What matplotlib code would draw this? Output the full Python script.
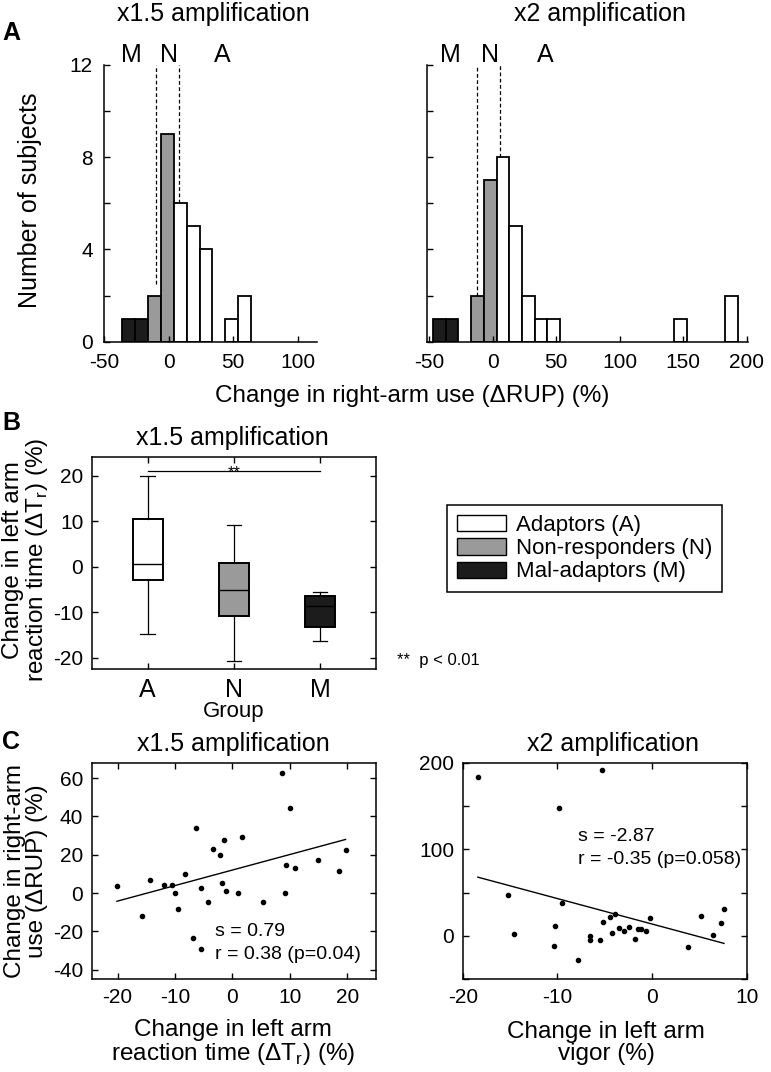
import numpy as np
import matplotlib
matplotlib.use("Agg")
import matplotlib.pyplot as plt
from matplotlib.patches import Patch

plt.rcParams['font.family'] = ['Liberation Sans', 'DejaVu Sans']
plt.rcParams['mathtext.fontset'] = 'custom'
plt.rcParams['mathtext.rm'] = 'Liberation Sans'
plt.rcParams['axes.unicode_minus'] = False
plt.rcParams['xtick.direction'] = 'in'
plt.rcParams['ytick.direction'] = 'in'
plt.rcParams['axes.linewidth'] = 1.1

# --- Panel A: histograms of change in right-arm use ---
bin_width = 10
x15_bin_left = [-36, -26, -16, -6, 4, 14, 24, 44, 54]
x15_counts = [1, 1, 2, 9, 6, 5, 4, 1, 2]
x15_group = ['M', 'M', 'N', 'N', 'A', 'A', 'A', 'A', 'A']
x15_thresholds = [-10, 8]
x15_thresh_bottom = [2.5, 6]
x15_label_x = [-29, 0, 42]

x2_bin_left = [-47, -37, -17, -7, 3, 13, 23, 33, 43, 143, 183]
x2_counts = [1, 1, 2, 7, 8, 5, 2, 1, 1, 1, 2]
x2_group = ['M', 'M', 'N', 'N', 'A', 'A', 'A', 'A', 'A', 'A', 'A']
x2_thresholds = [-12, 6]
x2_thresh_bottom = [2, 8]
x2_label_x = [-33, -2, 41]

group_names = ['M', 'N', 'A']
group_colors = {'A': 'white', 'N': '#9a9a9a', 'M': '#1c1c1c'}

# --- Panel B: boxplot stats of reaction time change ---
box_groups = ['A', 'N', 'M']
box_med = [0.7, -5.0, -8.5]
box_q1 = [-2.9, -10.9, -13.1]
box_q3 = [10.5, 0.9, -6.3]
box_lo = [-14.7, -20.6, -16.2]
box_hi = [20.0, 9.2, -5.6]

# --- Panel C: scatter data ---
rt_x15 = [-20.1, -15.7, -14.3, -11.9, -10.6, -10.0, -9.5, -8.2, -6.9, -6.4,
          -5.4, -5.4, -4.2, -3.3, -2.1, -1.8, -1.4, -1.1, 0.9, 1.7,
          5.3, 8.6, 9.1, 9.3, 10.0, 10.9, 14.9, 18.5, 19.7]
rup_x15 = [3.5, -11.8, 6.6, 4.2, 4.0, 0.0, -8.2, 10.1, -23.5, 33.7,
           -29.4, 2.6, -4.7, 23.0, 19.8, 5.4, 27.5, 0.9, 0.0, 29.0,
           -4.7, 62.8, 0.0, 14.4, 44.2, 13.0, 17.0, 11.7, 22.6]
fit_x15 = (0.81, 12.0)   # slope, intercept of regression line

vig_x2 = [-18.4, -5.3, -9.8, -15.2, -14.6, -9.5, -10.3, -10.4, -7.8, -6.6,
          -6.6, -5.5, -5.2, -4.4, -4.2, -3.9, -3.5, -3.0, -2.4, -1.8,
          -1.5, -1.2, -0.6, -0.2, 3.8, 5.2, 6.4, 7.3, 7.6]
rup_x2 = [183.6, 191.7, 147.8, 47.1, 2.7, 38.6, 12.0, -12.0, -27.4, 0.0,
          -5.0, -4.2, 15.8, 21.6, 3.1, 25.5, 9.3, 6.2, 10.4, -3.1,
          8.1, 8.1, 5.8, 21.2, -12.3, 22.8, 1.5, 15.4, 31.6]
fit_x2 = (-2.94, 13.8)

W, H = 771, 1072
fig = plt.figure(figsize=(W / 100, H / 100), dpi=100)


def fx(px):
    return px / W


def fy(py):
    return 1 - py / H


def hist_panel(ax, lefts, counts, groups, thr, thr_bottom, lab_x, xlim, xticks, show_ylab):
    cols = [group_colors[g] for g in groups]
    ax.bar(lefts, counts, width=bin_width, align='edge', color=cols,
           edgecolor='black', linewidth=1.3)
    for t, b in zip(thr, thr_bottom):
        ax.plot([t, t], [b, 12], ls='--', color='black', lw=0.9, dashes=(3, 2))
    for x, name in zip(lab_x, group_names):
        ax.text(x, 12.15, name, ha='center', va='baseline', fontsize=18, clip_on=False)
    ax.set_xlim(*xlim)
    ax.set_ylim(0, 12)
    ax.set_xticks(xticks)
    ax.set_yticks(range(0, 13, 2))
    if show_ylab:
        ax.set_yticklabels([str(v) if v % 4 == 0 else '' for v in range(0, 13, 2)])
    else:
        ax.set_yticklabels([])
    ax.spines['top'].set_visible(False)
    ax.spines['right'].set_visible(False)
    ax.tick_params(labelsize=15, length=4, width=1, pad=8)


axA1 = fig.add_axes([fx(104), fy(341.7), fx(213), 276.7 / H])
hist_panel(axA1, x15_bin_left, x15_counts, x15_group, x15_thresholds, x15_thresh_bottom,
           x15_label_x, (-50, 115), [-50, 0, 50, 100], True)
axA2 = fig.add_axes([fx(426.7), fy(341.7), fx(321.3), 276.7 / H])
hist_panel(axA2, x2_bin_left, x2_counts, x2_group, x2_thresholds, x2_thresh_bottom,
           x2_label_x, (-52, 201), [-50, 0, 50, 100, 150, 200], False)

fig.text(fx(213.5), fy(14), 'x1.5 amplification', ha='center', va='center', fontsize=18)
fig.text(fx(599.5), fy(14), 'x2 amplification', ha='center', va='center', fontsize=18)
fig.text(fx(30), fy(200), 'Number of subjects', rotation=90, ha='center', va='center', fontsize=18)
fig.text(fx(412), fy(396), 'Change in right-arm use (\u0394RUP) (%)', ha='center', va='center', fontsize=17.5)
fig.text(fx(2), fy(33), 'A', ha='left', va='center', fontsize=18, fontweight='bold')

# --- Panel B ---
axB = fig.add_axes([fx(91.7), fy(669.3), fx(284.3), 212.6 / H])
stats = []
for i, g in enumerate(box_groups):
    stats.append(dict(med=box_med[i], q1=box_q1[i], q3=box_q3[i],
                      whislo=box_lo[i], whishi=box_hi[i], label=g))
bp = axB.bxp(stats, positions=[1, 2, 3], widths=0.35, capwidths=0.17,
             showfliers=False, patch_artist=True,
             boxprops=dict(linewidth=1.4, edgecolor='black'),
             medianprops=dict(color='black', linewidth=1.0),
             whiskerprops=dict(color='black', linewidth=0.9),
             capprops=dict(color='black', linewidth=0.9))
for patch, g in zip(bp['boxes'], box_groups):
    patch.set_facecolor(group_colors[g])
axB.set_xlim(0.35, 3.65)
axB.set_ylim(-22.5, 24.2)
axB.set_yticks([-20, -10, 0, 10, 20])
axB.tick_params(labelsize=15, length=4, width=1, top=True, right=True, pad=6)
axB.set_xticks([1, 2, 3])
axB.set_xticklabels(box_groups, fontsize=18)
axB.plot([1, 3], [21.1, 21.1], color='black', lw=0.9)
axB.text(2, 19.8, '**', ha='center', va='baseline', fontsize=12)
fig.text(fx(232), fy(438), 'x1.5 amplification', ha='center', va='center', fontsize=18)
fig.text(fx(234), fy(712), 'Group', ha='center', va='center', fontsize=16)
fig.text(fx(26), fy(560), 'Change in left arm\nreaction time (\u0394T$_\\mathregular{r}$) (%)',
         rotation=90, ha='center', va='center', fontsize=17.5, linespacing=1.05, multialignment='center')
fig.text(fx(2), fy(423), 'B', ha='left', va='center', fontsize=18, fontweight='bold')

handles = [Patch(facecolor=group_colors['A'], edgecolor='black', label='Adaptors (A)'),
           Patch(facecolor=group_colors['N'], edgecolor='black', label='Non-responders (N)'),
           Patch(facecolor=group_colors['M'], edgecolor='black', label='Mal-adaptors (M)')]
leg = fig.legend(handles=handles, loc='upper left', bbox_to_anchor=(fx(446.7), fy(505)),
                 fontsize=16, frameon=True, fancybox=False, edgecolor='black', framealpha=1,
                 handlelength=2.2, handleheight=0.75, labelspacing=0.1, handletextpad=0.45,
                 borderpad=0.45, borderaxespad=0)
leg.get_frame().set_linewidth(1.1)
fig.text(fx(396.7), fy(660), '**  p < 0.01', ha='left', va='center', fontsize=12)

# --- Panel C ---
def scatter_panel(ax, x, y, fit):
    ax.scatter(x, y, s=9, color='black', zorder=3)
    xs = np.array([min(x), max(x)])
    ax.plot(xs, fit[0] * xs + fit[1], color='black', lw=1.0)
    ax.tick_params(labelsize=15, length=4, width=1, top=True, right=True, pad=6)


axC1 = fig.add_axes([fx(91.7), fy(979.3), fx(284.3), 216.6 / H])
scatter_panel(axC1, rt_x15, rup_x15, fit_x15)
axC1.set_xlim(-24.5, 25)
axC1.set_ylim(-45, 68)
axC1.set_xticks([-20, -10, 0, 10, 20])
axC1.set_yticks([-40, -20, 0, 20, 40, 60])
fig.text(fx(215), fy(931.7), 's = 0.79', ha='left', va='center', fontsize=14)
fig.text(fx(215), fy(954.3), 'r = 0.38 (p=0.04)', ha='left', va='center', fontsize=14)

axC2 = fig.add_axes([fx(462.7), fy(979.3), fx(284), 216.6 / H])
scatter_panel(axC2, vig_x2, rup_x2, fit_x2)
axC2.set_xlim(-20, 10)
axC2.set_ylim(-50, 200)
axC2.set_xticks([-20, -10, 0, 10])
axC2.set_yticks([-50, 0, 50, 100, 150, 200])
axC2.set_yticklabels(['', '0', '', '100', '', '200'])
fig.text(fx(578.3), fy(836.7), 's = -2.87', ha='left', va='center', fontsize=14)
fig.text(fx(578.3), fy(859.3), 'r = -0.35 (p=0.058)', ha='left', va='center', fontsize=14)

fig.text(fx(233), fy(744), 'x1.5 amplification', ha='center', va='center', fontsize=18)
fig.text(fx(613), fy(744), 'x2 amplification', ha='center', va='center', fontsize=18)
fig.text(fx(233), fy(1043), 'Change in left arm\nreaction time (\u0394T$_\\mathregular{r}$) (%)',
         ha='center', va='center', fontsize=17.5, linespacing=1.05)
fig.text(fx(606), fy(1043), 'Change in left arm\nvigor (%)',
         ha='center', va='center', fontsize=17.5, linespacing=1.05)
fig.text(fx(26), fy(871), 'Change in right-arm\nuse (\u0394RUP) (%)', rotation=90,
         ha='center', va='center', fontsize=17.5, linespacing=1.05, multialignment='center')
fig.text(fx(2), fy(742), 'C', ha='left', va='center', fontsize=18, fontweight='bold')

fig.savefig('out.png', dpi=100)
